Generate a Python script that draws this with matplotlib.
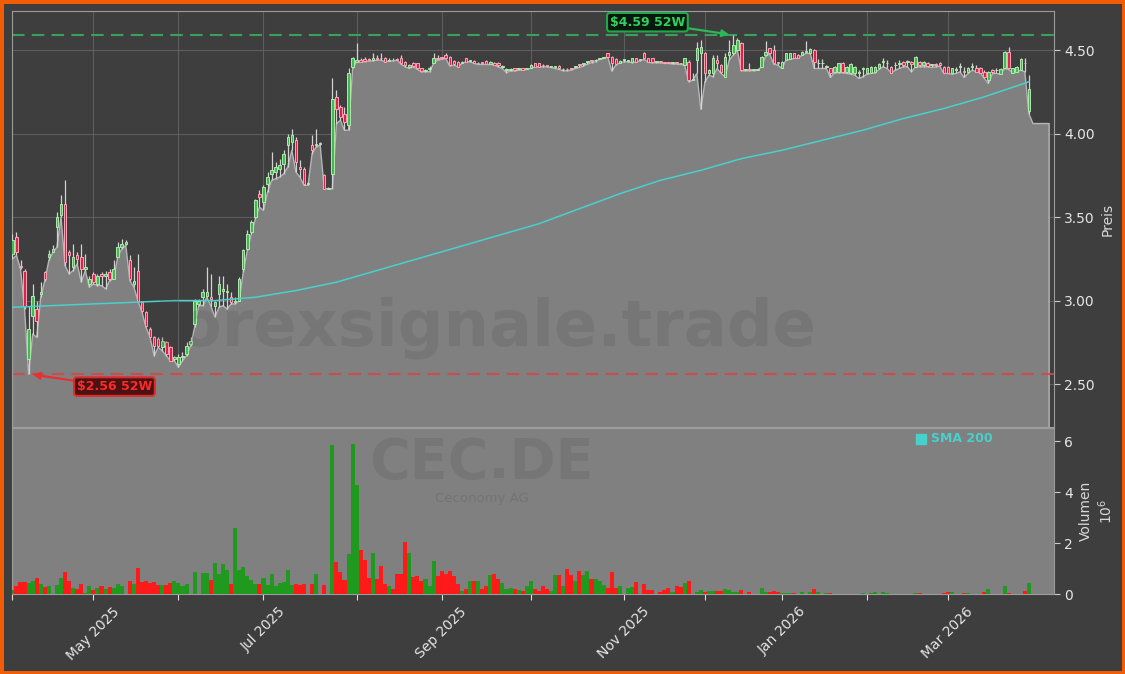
import numpy as np
import pandas as pd
import matplotlib
matplotlib.use("Agg")
import matplotlib.pyplot as plt

# =========================
# DATA  (CEC.DE, daily, Apr 2025 - Mar 2026)
# =========================
HOLIDAYS = ["2025-04-18", "2025-04-21", "2025-05-01", "2025-12-24", "2025-12-25",
            "2025-12-26", "2025-12-31", "2026-01-01", "2026-04-03", "2026-04-06"]

opens = [
    3.28, 3.38, 3.21, 3.18, 2.65, 2.91, 2.95, 3.04, 3.17, 3.26,
    3.29, 3.44, 3.51, 3.58, 3.29, 3.20, 3.27, 3.26, 3.19, 3.10,
    3.16, 3.10, 3.16, 3.15, 3.17, 3.13, 3.26, 3.32, 3.34, 3.24,
    3.10, 3.18, 2.99, 2.93, 2.83, 2.78, 2.77, 2.72, 2.75, 2.72,
    2.65, 2.62, 2.66, 2.68, 2.74, 2.86, 2.98, 3.02, 3.03, 3.02,
    2.97, 3.04, 3.06, 3.05, 3.02, 2.99, 3.00, 3.19, 3.31, 3.41,
    3.50, 3.64, 3.59, 3.70, 3.76, 3.77, 3.79, 3.82, 3.93, 3.95,
    3.96, 3.80, 3.79, 3.70, 3.93, 3.93, 3.94, 3.75, 3.67, 3.76,
    4.22, 4.16, 4.12, 4.05, 4.40, 4.43, 4.44, 4.445, 4.445, 4.44,
    4.45, 4.455, 4.45, 4.435, 4.442, 4.447, 4.45, 4.43, 4.40, 4.42,
    4.42, 4.39, 4.375, 4.385, 4.42, 4.455, 4.458, 4.47, 4.46, 4.435,
    4.43, 4.425, 4.45, 4.435, 4.436, 4.42, 4.425, 4.436, 4.416, 4.424,
    4.424, 4.40, 4.38, 4.38, 4.39, 4.388, 4.39, 4.388, 4.39, 4.42,
    4.42, 4.412, 4.405, 4.40, 4.398, 4.404, 4.385, 4.388, 4.393, 4.398,
    4.412, 4.418, 4.428, 4.438, 4.438, 4.448, 4.454, 4.48, 4.46, 4.444,
    4.424, 4.44, 4.434, 4.426, 4.45, 4.44, 4.484, 4.45, 4.45, 4.43,
    4.432, 4.426, 4.426, 4.422, 4.426, 4.422, 4.41, 4.43, 4.32, 4.44,
    4.48, 4.48, 4.36, 4.36, 4.44, 4.41, 4.34, 4.47, 4.48, 4.50,
    4.54, 4.38, 4.382, 4.38, 4.38, 4.40, 4.47, 4.51, 4.50, 4.426,
    4.39, 4.44, 4.445, 4.48, 4.47, 4.47, 4.488, 4.48, 4.50, 4.42,
    4.42, 4.40, 4.39, 4.37, 4.37, 4.424, 4.37, 4.36, 4.36, 4.362,
    4.385, 4.36, 4.36, 4.37, 4.39, 4.428, 4.42, 4.40, 4.408, 4.418,
    4.43, 4.428, 4.43, 4.40, 4.43, 4.41, 4.424, 4.41, 4.412, 4.424,
    4.40, 4.40, 4.36, 4.38, 4.40, 4.372, 4.37, 4.40, 4.39, 4.39,
    4.37, 4.32, 4.38, 4.378, 4.356, 4.39, 4.49, 4.364, 4.37, 4.38,
    4.424, 4.137,
]

highs = [
    3.40, 3.41, 3.24, 3.19, 2.97, 3.10, 3.00, 3.11, 3.18, 3.30,
    3.33, 3.53, 3.63, 3.72, 3.30, 3.34, 3.29, 3.34, 3.28, 3.15,
    3.17, 3.16, 3.17, 3.18, 3.19, 3.24, 3.35, 3.37, 3.36, 3.27,
    3.20, 3.28, 3.00, 2.94, 2.84, 2.79, 2.78, 2.78, 2.76, 2.73,
    2.67, 2.68, 2.69, 2.75, 2.78, 3.01, 3.01, 3.07, 3.20, 3.16,
    3.00, 3.15, 3.15, 3.10, 3.05, 3.02, 3.14, 3.31, 3.42, 3.48,
    3.61, 3.66, 3.69, 3.77, 3.89, 3.83, 3.85, 3.90, 4.00, 4.03,
    3.98, 3.84, 3.80, 3.71, 3.99, 4.03, 3.95, 3.76, 3.68, 4.33,
    4.26, 4.17, 4.16, 4.39, 4.46, 4.54, 4.45, 4.46, 4.45, 4.48,
    4.47, 4.48, 4.46, 4.45, 4.45, 4.45, 4.47, 4.435, 4.415, 4.43,
    4.425, 4.395, 4.385, 4.405, 4.48, 4.47, 4.46, 4.48, 4.465, 4.44,
    4.435, 4.435, 4.455, 4.44, 4.44, 4.43, 4.43, 4.44, 4.435, 4.43,
    4.43, 4.41, 4.39, 4.39, 4.395, 4.395, 4.395, 4.395, 4.415, 4.425,
    4.425, 4.415, 4.41, 4.405, 4.405, 4.41, 4.39, 4.39, 4.395, 4.405,
    4.415, 4.425, 4.435, 4.44, 4.445, 4.455, 4.46, 4.485, 4.465, 4.45,
    4.44, 4.445, 4.44, 4.455, 4.455, 4.445, 4.49, 4.455, 4.455, 4.435,
    4.435, 4.43, 4.43, 4.43, 4.43, 4.425, 4.455, 4.44, 4.36, 4.55,
    4.56, 4.49, 4.385, 4.47, 4.47, 4.415, 4.48, 4.56, 4.59, 4.57,
    4.55, 4.385, 4.42, 4.385, 4.385, 4.465, 4.555, 4.515, 4.53, 4.43,
    4.435, 4.485, 4.485, 4.485, 4.475, 4.495, 4.556, 4.51, 4.505, 4.444,
    4.444, 4.41, 4.395, 4.405, 4.425, 4.43, 4.405, 4.42, 4.405, 4.38,
    4.40, 4.395, 4.405, 4.405, 4.42, 4.45, 4.44, 4.405, 4.43, 4.44,
    4.435, 4.44, 4.435, 4.465, 4.435, 4.435, 4.43, 4.415, 4.42, 4.43,
    4.405, 4.405, 4.395, 4.40, 4.42, 4.40, 4.40, 4.42, 4.41, 4.40,
    4.38, 4.375, 4.385, 4.39, 4.39, 4.495, 4.52, 4.395, 4.405, 4.45,
    4.45, 4.35,
]

# lows also carry the last quoted days (Mar 31 - Apr 8) shown only in the area
lows = [
    3.25, 3.27, 3.19, 2.95, 2.56, 2.80, 2.78, 3.02, 3.12, 3.24,
    3.29, 3.32, 3.50, 3.21, 3.16, 3.18, 3.22, 3.11, 3.18, 3.08,
    3.10, 3.09, 3.09, 3.07, 3.12, 3.13, 3.26, 3.31, 3.33, 3.12,
    3.08, 3.00, 2.93, 2.84, 2.78, 2.67, 2.72, 2.70, 2.67, 2.64,
    2.64, 2.60, 2.64, 2.67, 2.73, 2.84, 2.97, 2.97, 3.02, 2.97,
    2.90, 2.96, 2.97, 2.95, 2.98, 2.98, 3.00, 3.17, 3.30, 3.40,
    3.49, 3.56, 3.54, 3.65, 3.72, 3.73, 3.74, 3.76, 3.80, 3.90,
    3.77, 3.74, 3.69, 3.69, 3.88, 3.92, 3.93, 3.67, 3.67, 3.67,
    4.06, 4.08, 4.02, 4.02, 4.39, 4.43, 4.43, 4.43, 4.435, 4.435,
    4.44, 4.44, 4.43, 4.435, 4.435, 4.44, 4.415, 4.40, 4.39, 4.40,
    4.385, 4.37, 4.37, 4.37, 4.42, 4.44, 4.445, 4.45, 4.405, 4.41,
    4.40, 4.42, 4.43, 4.43, 4.42, 4.414, 4.414, 4.414, 4.414, 4.41,
    4.40, 4.39, 4.365, 4.375, 4.375, 4.38, 4.38, 4.384, 4.39, 4.40,
    4.40, 4.40, 4.40, 4.396, 4.39, 4.384, 4.376, 4.376, 4.38, 4.39,
    4.396, 4.404, 4.416, 4.424, 4.43, 4.444, 4.45, 4.46, 4.375, 4.41,
    4.424, 4.43, 4.43, 4.424, 4.43, 4.436, 4.444, 4.426, 4.424, 4.424,
    4.424, 4.42, 4.42, 4.416, 4.416, 4.414, 4.41, 4.31, 4.32, 4.36,
    4.145, 4.31, 4.35, 4.34, 4.39, 4.36, 4.34, 4.44, 4.47, 4.50,
    4.376, 4.376, 4.376, 4.376, 4.38, 4.40, 4.465, 4.476, 4.416, 4.41,
    4.39, 4.44, 4.444, 4.45, 4.45, 4.47, 4.48, 4.48, 4.39, 4.39,
    4.39, 4.39, 4.336, 4.364, 4.364, 4.364, 4.36, 4.356, 4.35, 4.33,
    4.34, 4.356, 4.36, 4.364, 4.384, 4.40, 4.39, 4.364, 4.38, 4.39,
    4.40, 4.40, 4.37, 4.40, 4.40, 4.40, 4.40, 4.396, 4.40, 4.404,
    4.36, 4.36, 4.356, 4.36, 4.37, 4.336, 4.36, 4.38, 4.37, 4.364,
    4.33, 4.30, 4.36, 4.36, 4.356, 4.39, 4.384, 4.364, 4.37, 4.38,
    4.37, 4.12, 4.06, 4.06, 4.06, 4.06, 4.06,
]

closes = [
    3.36, 3.29, 3.20, 2.97, 2.83, 3.03, 2.88, 3.05, 3.13, 3.28,
    3.31, 3.50, 3.58, 3.23, 3.27, 3.26, 3.25, 3.19, 3.20, 3.13,
    3.11, 3.15, 3.15, 3.16, 3.13, 3.19, 3.32, 3.34, 3.35, 3.13,
    3.12, 3.00, 2.94, 2.85, 2.78, 2.73, 2.73, 2.76, 2.68, 2.64,
    2.66, 2.66, 2.67, 2.73, 2.76, 3.00, 3.00, 3.05, 3.05, 3.01,
    2.99, 3.10, 3.07, 3.06, 2.99, 3.00, 3.13, 3.30, 3.40, 3.47,
    3.60, 3.62, 3.68, 3.74, 3.78, 3.80, 3.81, 3.88, 3.98, 3.99,
    3.83, 3.79, 3.70, 3.70, 3.90, 3.94, 3.94, 3.67, 3.67, 4.21,
    4.15, 4.10, 4.07, 4.36, 4.45, 4.44, 4.43, 4.435, 4.44, 4.45,
    4.445, 4.45, 4.43, 4.44, 4.438, 4.442, 4.42, 4.41, 4.41, 4.405,
    4.39, 4.375, 4.38, 4.39, 4.455, 4.448, 4.452, 4.45, 4.41, 4.415,
    4.40, 4.43, 4.43, 4.437, 4.42, 4.425, 4.424, 4.416, 4.43, 4.41,
    4.41, 4.402, 4.382, 4.385, 4.38, 4.39, 4.38, 4.39, 4.41, 4.40,
    4.40, 4.408, 4.404, 4.40, 4.402, 4.39, 4.386, 4.384, 4.389, 4.40,
    4.41, 4.42, 4.43, 4.435, 4.44, 4.45, 4.456, 4.46, 4.42, 4.416,
    4.436, 4.44, 4.436, 4.45, 4.43, 4.44, 4.45, 4.426, 4.426, 4.43,
    4.43, 4.424, 4.424, 4.424, 4.422, 4.42, 4.45, 4.32, 4.32, 4.51,
    4.52, 4.36, 4.38, 4.45, 4.42, 4.37, 4.46, 4.49, 4.53, 4.56,
    4.38, 4.38, 4.38, 4.38, 4.38, 4.46, 4.49, 4.48, 4.42, 4.424,
    4.43, 4.48, 4.48, 4.45, 4.45, 4.49, 4.49, 4.504, 4.43, 4.42,
    4.424, 4.40, 4.36, 4.40, 4.42, 4.37, 4.40, 4.414, 4.40, 4.37,
    4.39, 4.39, 4.40, 4.40, 4.416, 4.43, 4.42, 4.364, 4.41, 4.42,
    4.41, 4.43, 4.416, 4.46, 4.41, 4.43, 4.404, 4.41, 4.41, 4.41,
    4.36, 4.36, 4.39, 4.38, 4.40, 4.37, 4.39, 4.40, 4.37, 4.364,
    4.336, 4.37, 4.37, 4.38, 4.384, 4.49, 4.39, 4.39, 4.40, 4.444,
    4.42, 4.264,
]

# volume in millions of shares
volumes = [
    0.15, 0.30, 0.46, 0.46, 0.43, 0.50, 0.61, 0.39, 0.29, 0.31,
    0.00, 0.35, 0.64, 0.85, 0.51, 0.23, 0.20, 0.39, 0.02, 0.31,
    0.16, 0.22, 0.31, 0.21, 0.29, 0.22, 0.39, 0.31, 0.00, 0.51,
    0.39, 1.02, 0.48, 0.51, 0.44, 0.47, 0.37, 0.35, 0.35, 0.43,
    0.51, 0.44, 0.33, 0.39, 0.00, 0.86, 0.00, 0.83, 0.83, 0.56,
    1.20, 0.78, 1.16, 0.96, 0.39, 2.59, 0.96, 1.05, 0.69, 0.53,
    0.40, 0.41, 0.64, 0.35, 0.78, 0.30, 0.44, 0.47, 0.94, 0.35,
    0.41, 0.37, 0.39, 0.00, 0.41, 0.78, 0.00, 0.35, 0.00, 5.84,
    1.24, 0.86, 0.55, 1.58, 5.90, 4.27, 1.73, 1.33, 0.61, 1.61,
    0.58, 1.10, 0.40, 0.30, 0.20, 0.80, 0.80, 2.05, 1.60, 0.65,
    0.70, 0.50, 0.60, 0.30, 1.30, 0.70, 0.90, 0.80, 0.90, 0.70,
    0.40, 0.10, 0.20, 0.50, 0.50, 0.50, 0.20, 0.30, 0.75, 0.80,
    0.60, 0.45, 0.20, 0.25, 0.20, 0.15, 0.10, 0.30, 0.50, 0.20,
    0.10, 0.30, 0.20, 0.10, 0.75, 0.75, 0.30, 1.00, 0.75, 0.50,
    0.90, 0.75, 0.90, 0.60, 0.60, 0.51, 0.35, 0.25, 0.85, 0.25,
    0.31, 0.00, 0.25, 0.29, 0.47, 0.00, 0.39, 0.16, 0.16, 0.00,
    0.08, 0.16, 0.25, 0.08, 0.31, 0.29, 0.44, 0.51, 0.00, 0.08,
    0.16, 0.08, 0.12, 0.12, 0.12, 0.12, 0.20, 0.16, 0.08, 0.08,
    0.16, 0.00, 0.08, 0.00, 0.00, 0.24, 0.08, 0.08, 0.13, 0.08,
    0.04, 0.04, 0.04, 0.04, 0.00, 0.08, 0.00, 0.08, 0.20, 0.08,
    0.00, 0.04, 0.04, 0.00, 0.00, 0.00, 0.00, 0.00, 0.00, 0.00,
    0.04, 0.00, 0.04, 0.08, 0.00, 0.08, 0.04, 0.00, 0.00, 0.00,
    0.00, 0.00, 0.00, 0.04, 0.04, 0.00, 0.00, 0.00, 0.00, 0.00,
    0.04, 0.08, 0.08, 0.00, 0.00, 0.04, 0.04, 0.00, 0.00, 0.00,
    0.08, 0.20, 0.00, 0.00, 0.00, 0.31, 0.04, 0.00, 0.00, 0.00,
    0.12, 0.43,
]

# SMA 200 read at every 10th session
sma_idx = [0, 10, 20, 30, 40, 50, 60, 70, 80, 90, 100, 110, 120,
           130, 140, 150, 160, 170, 180, 190, 200, 210, 220, 230, 240, 251]
sma_vals = [2.96, 2.97, 2.98, 2.99, 3.00, 3.00, 3.02, 3.06, 3.11, 3.18, 3.25, 3.32, 3.39,
            3.46, 3.55, 3.64, 3.72, 3.78, 3.85, 3.90, 3.96, 4.02, 4.09, 4.15, 4.22, 4.31]

# =========================
# PREP
# =========================
dates = pd.bdate_range("2025-04-01", "2026-04-08")
dates = dates[~dates.isin(pd.to_datetime(HOLIDAYS))]

n = len(closes)
idx = np.arange(n)
o = np.array(opens)
h = np.array(highs)
lo = np.array(lows)
c = np.array(closes)
v = np.array(volumes)
up = c >= o

hi52 = h.max()
lo52 = lo.min()
hi_i = int(h.argmax())
lo_i = int(lo.argmin())

cdates = dates[:n]
month_pos = [0] + [i for i in range(1, n) if cdates[i].month != cdates[i - 1].month]
month_lbl = [cdates[i].strftime("%b %Y") if cdates[i].month % 2 == 1 else "" for i in month_pos]

# =========================
# FIGURE
# =========================
BG = "#3e3e3e"
FILL = "#808080"
TXT = "#e6e6e6"
SPINE = "#9c9c9c"

fig = plt.figure(figsize=(11.25, 6.74), dpi=100, facecolor=BG)
fig.patch.set_edgecolor("#f25c05")
fig.patch.set_linewidth(5)

ax = fig.add_axes([0.01067, 0.36647, 0.92622, 0.61721])
axv = fig.add_axes([0.01067, 0.11869, 0.92622, 0.24629], sharex=ax)

# ---- price panel ----
ax.set_facecolor(BG)
ax.set_axisbelow(True)
ax.grid(True, color="#5e5e5e", lw=0.8)

ax.fill_between(np.arange(len(lo)), lo, 0, facecolor=FILL, edgecolor="#b6b6b6",
                lw=1.0, zorder=2)

ax.axhline(hi52, color="#3aa05a", lw=1.5, ls=(0, (6, 3.5)), zorder=2.5)
ax.axhline(lo52, color="#d24848", lw=1.5, ls=(0, (6, 3.5)), alpha=0.9, zorder=2.5)

ax.vlines(idx, h, lo[:n], color="#d2d2d2", lw=0.9, zorder=3)
bottoms = np.minimum(o, c)
heights = np.maximum(np.abs(c - o), 0.004)
ax.bar(idx, heights, 0.62, bottom=bottoms,
       color=np.where(up, "#45b84f", "#d8234a"),
       edgecolor=np.where(up, "#aeeaae", "#ffa3b6"), lw=0.7, zorder=4)

ax.plot(sma_idx, sma_vals, color="#48d1cc", lw=1.1, zorder=5)

ax.annotate(rf"\${hi52:.2f} 52W", xy=(hi_i, hi52), xytext=(156.8, 4.667),
            ha="center", va="center", fontsize=9, fontweight="bold", color="#2fd160",
            bbox=dict(boxstyle="round,pad=0.22", fc="#08180c", ec="#22a84c", lw=1.5),
            arrowprops=dict(arrowstyle="-|>", color="#2bb856", lw=1.6,
                            mutation_scale=10, shrinkA=0, shrinkB=3),
            zorder=7)
ax.annotate(rf"\${lo52:.2f} 52W", xy=(lo_i, lo52), xytext=(25.2, 2.485),
            ha="center", va="center", fontsize=9, fontweight="bold", color="#ff2a2a",
            bbox=dict(boxstyle="round,pad=0.22", fc="#4a1212", ec="#e02a2a", lw=1.5),
            arrowprops=dict(arrowstyle="-|>", color="#e83030", lw=1.6,
                            mutation_scale=10, shrinkA=0, shrinkB=3),
            zorder=7)

ax.set_ylim(2.243, 4.734)
ax.set_xlim(-0.1, 257.2)
ax.set_yticks([2.5, 3.0, 3.5, 4.0, 4.5])
ax.set_yticklabels(["2.50", "3.00", "3.50", "4.00", "4.50"])
ax.yaxis.tick_right()
ax.yaxis.set_label_position("right")
ax.set_ylabel("Preis", color="#d8d8d8", fontsize=10)
ax.set_xticks(month_pos)
ax.tick_params(axis="x", length=0, labelbottom=False)
ax.tick_params(axis="y", colors="#cccccc", labelcolor=TXT, labelsize=10, length=4)
for sp in ax.spines.values():
    sp.set_color(SPINE)

# ---- volume panel ----
axv.set_facecolor(FILL)
axv.bar(idx, v, 1.0, color=np.where(up, "#1f9a1f", "#ff1a1a"), zorder=3)
axv.set_ylim(0, 6.51)
axv.set_yticks([0, 2, 4, 6])
axv.yaxis.tick_right()
axv.yaxis.set_label_position("right")
axv.set_ylabel("Volumen\n$10^{6}$", color="#d8d8d8", fontsize=10, linespacing=1.2)
axv.set_xticks(month_pos)
axv.set_xticklabels(month_lbl, rotation=45, ha="center")
axv.tick_params(axis="x", colors="#dddddd", labelcolor=TXT, labelsize=10, length=4)
axv.tick_params(axis="y", colors="#cccccc", labelcolor=TXT, labelsize=10, length=4)
for sp in axv.spines.values():
    sp.set_color(SPINE)

axv.plot([0.872], [0.935], marker="s", ms=6.5, color="#48d1cc", ls="None",
         transform=axv.transAxes, clip_on=False, zorder=6)
axv.text(0.882, 0.935, "SMA 200", transform=axv.transAxes, color="#48d1cc",
         fontsize=9, fontweight="bold", va="center", ha="left", zorder=6)

# ---- watermarks ----
fig.text(0.430, 0.513, "forexsignale.trade", fontsize=46, fontweight="bold",
         color="#404040", alpha=0.14, ha="center", va="center", zorder=10)
fig.text(0.428, 0.291, "CEC.DE", fontsize=40, fontweight="bold",
         color="#404040", alpha=0.14, ha="center", va="baseline", zorder=10)
fig.text(0.428, 0.255, "Ceconomy AG", fontsize=9.5,
         color="#404040", alpha=0.2, ha="center", va="baseline", zorder=10)

fig.savefig("out.png", dpi=100)
